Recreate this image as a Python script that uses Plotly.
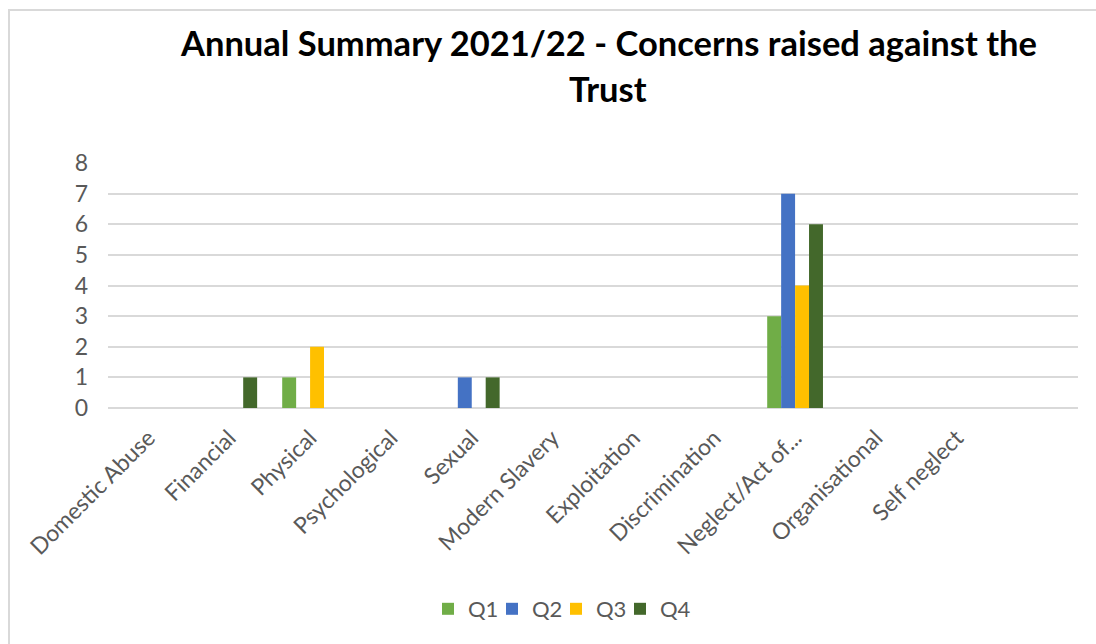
import plotly.graph_objects as go

# Concern categories (last slot is an unlabeled spare category)
categories = [
    "Domestic Abuse", "Financial", "Physical", "Psychological", "Sexual",
    "Modern Slavery", "Exploitation", "Discrimination", "Neglect/Act of...",
    "Organisational", "Self neglect", " ",
]

# Quarterly counts per category
q1 = [0, 0, 1, 0, 0, 0, 0, 0, 3, 0, 0, 0]
q2 = [0, 0, 0, 0, 1, 0, 0, 0, 7, 0, 0, 0]
q3 = [0, 0, 2, 0, 0, 0, 0, 0, 4, 0, 0, 0]
q4 = [0, 1, 0, 0, 1, 0, 0, 0, 6, 0, 0, 0]

series_names = ["Q1", "Q2", "Q3", "Q4"]
series_values = [q1, q2, q3, q4]
series_colors = ["#70AD47", "#4472C4", "#FFC000", "#43682B"]

title_lines = ["Annual Summary 2021/22 - Concerns raised against the", "Trust"]

FONT = "Lato"
GREY_TEXT = "#595959"
GRID = "#D9D9D9"

fig = go.Figure()
for name, vals, col in zip(series_names, series_values, series_colors):
    fig.add_trace(go.Bar(
        x=categories, y=vals, name=name,
        marker=dict(color=col, line=dict(width=0)),
    ))

# Empty, invisible legend slot so the last legend label is not clipped
# by the fixed entry width.
fig.add_trace(go.Scatter(
    x=[None], y=[None], mode="markers", name=" ",
    marker=dict(size=0, color="rgba(0,0,0,0)", line=dict(width=0)),
    hoverinfo="skip",
))

W, H = 1096, 644
L, R, T, B = 108, 18, 163, 236
plot_w = W - L - R
plot_h = H - T - B

def px_to_paper_x(px):
    return (px - L) / plot_w

def px_to_paper_y(py):
    return (H - B - py) / plot_h

# Two-line bold title, each line placed on its own
title_annotations = [
    dict(
        text=f"<b>{line}</b>", showarrow=False,
        xref="paper", yref="paper",
        x=px_to_paper_x(608), y=px_to_paper_y(yc),
        xanchor="center", yanchor="middle",
        font=dict(family=FONT, size=34.5, color="#000000"),
    )
    for line, yc in zip(title_lines, [42, 89])
]

fig.update_layout(
    width=W, height=H,
    margin=dict(l=L, r=R, t=T, b=B, pad=0),
    paper_bgcolor="white", plot_bgcolor="white",
    barmode="group", bargap=0.31, bargroupgap=0,
    font=dict(family=FONT, color=GREY_TEXT),
    annotations=title_annotations,
    xaxis=dict(
        type="category", categoryorder="array", categoryarray=categories,
        tickangle=-45, tickfont=dict(family=FONT, size=23, color=GREY_TEXT),
        showgrid=False, showline=False, ticks="", zeroline=False,
        ticklabelstandoff=11,
    ),
    yaxis=dict(
        range=[0, 8], dtick=1, tick0=0,
        showgrid=True, gridcolor=GRID, gridwidth=2,
        zeroline=True, zerolinecolor=GRID, zerolinewidth=2,
        showline=False, ticks="",
        tickfont=dict(family=FONT, size=23, color=GREY_TEXT),
        ticklabelstandoff=19,
    ),
    legend=dict(
        orientation="h",
        xref="container", x=588 / W, xanchor="center",
        yref="container", y=1 - 609 / H, yanchor="middle",
        font=dict(family=FONT, size=22, color=GREY_TEXT),
        entrywidth=19, entrywidthmode="pixels",
        itemclick=False, itemdoubleclick=False,
    ),
    shapes=[dict(
        type="rect", xref="paper", yref="paper",
        x0=px_to_paper_x(9), x1=px_to_paper_x(W + 10),
        y0=px_to_paper_y(H + 10), y1=px_to_paper_y(10),
        line=dict(color=GRID, width=2), fillcolor="rgba(0,0,0,0)",
        layer="below",
    )],
)

fig.write_html("out.html")
